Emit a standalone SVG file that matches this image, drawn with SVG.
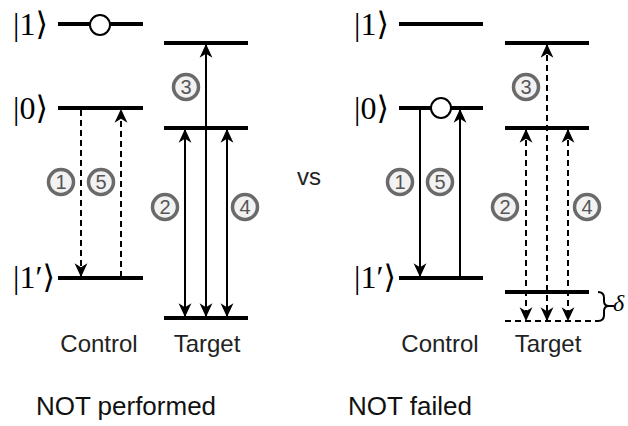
<svg xmlns="http://www.w3.org/2000/svg" width="628" height="426" viewBox="0 0 628 426">
<style>
.lvl{stroke:#000;stroke-width:4;fill:none}
.ar{stroke:#000;stroke-width:2;fill:none}
.da{stroke:#000;stroke-width:2;fill:none;stroke-dasharray:6,4}
.ket{font-family:"Liberation Serif","DejaVu Serif",serif;font-size:32px;fill:#000}
.lab{font-family:"Liberation Sans",Arial,sans-serif;font-size:24px;fill:#222;text-anchor:middle}
.big{font-family:"Liberation Sans",Arial,sans-serif;font-size:26px;fill:#111;text-anchor:middle}
.num circle{fill:#f2f2f2;stroke:#6a6a6a;stroke-width:3.5}
.num text{font-family:"Liberation Sans",Arial,sans-serif;font-size:20px;fill:#555;text-anchor:middle}
.dot{fill:#fff;stroke:#000;stroke-width:2}
</style>
<defs>
<marker id="ah" markerUnits="userSpaceOnUse" markerWidth="14" markerHeight="14" viewBox="0 0 12 12" refX="11" refY="6" orient="auto-start-reverse">
<path d="M0,0.5 L12,6 L0,11.5 L3.5,6 z" fill="#000"/>
</marker>
</defs>

<!-- Left panel -->
<g id="left-control">
<text class="ket" x="13" y="35">|1⟩</text>
<text class="ket" x="13" y="119">|0⟩</text>
<text class="ket" x="13" y="288">|1′⟩</text>
<line class="lvl" x1="58" y1="24" x2="143" y2="24"/>
<line class="lvl" x1="58" y1="108" x2="143" y2="108"/>
<line class="lvl" x1="58" y1="278" x2="143" y2="278"/>
<circle class="dot" cx="100" cy="25" r="10"/>
<text class="lab" x="99" y="352">Control</text>
</g>
<g id="left-target">
<line class="lvl" x1="164" y1="43" x2="248" y2="43"/>
<line class="lvl" x1="164" y1="128" x2="248" y2="128"/>
<line class="lvl" x1="164" y1="318" x2="248" y2="318"/>
<text class="lab" x="207" y="352">Target</text>
</g>
<g id="left-connectors">
<line class="da" x1="81" y1="110" x2="81" y2="276" marker-end="url(#ah)"/>
<line class="da" x1="121" y1="277" x2="121" y2="110" marker-end="url(#ah)"/>
<line class="ar" x1="185" y1="130" x2="185" y2="316" marker-start="url(#ah)" marker-end="url(#ah)"/>
<line class="ar" x1="206" y1="45" x2="206" y2="316" marker-start="url(#ah)" marker-end="url(#ah)"/>
<line class="ar" x1="227" y1="130" x2="227" y2="316" marker-start="url(#ah)" marker-end="url(#ah)"/>
</g>
<g id="left-numbers" class="num">
<circle cx="61" cy="182" r="12.5"/><text x="61" y="189">1</text>
<circle cx="101" cy="182" r="12.5"/><text x="101" y="189">5</text>
<circle cx="165" cy="207" r="12.5"/><text x="165" y="214">2</text>
<circle cx="245" cy="207" r="12.5"/><text x="245" y="214">4</text>
<circle cx="186" cy="87" r="12.5"/><text x="186" y="94">3</text>
</g>
<text id="left-caption" class="big" x="126" y="415">NOT performed</text>

<text id="vs" class="lab" x="309" y="185">vs</text>

<!-- Right panel -->
<g id="right-control">
<text class="ket" x="354" y="35">|1⟩</text>
<text class="ket" x="354" y="119">|0⟩</text>
<text class="ket" x="354" y="288">|1′⟩</text>
<line class="lvl" x1="399" y1="24" x2="483" y2="24"/>
<line class="lvl" x1="399" y1="108" x2="483" y2="108"/>
<line class="lvl" x1="399" y1="278" x2="483" y2="278"/>
<circle class="dot" cx="441" cy="108" r="10"/>
<text class="lab" x="440" y="352">Control</text>
</g>
<g id="right-target">
<line class="lvl" x1="505" y1="43" x2="589" y2="43"/>
<line class="lvl" x1="505" y1="128" x2="589" y2="128"/>
<line class="lvl" x1="505" y1="292" x2="589" y2="292"/>
<line class="da" x1="505" y1="321" x2="598" y2="321"/>
<path class="ar" d="M598,292 q6,0 6,6 v3 q0,5 5,5 q-5,0 -5,5 v4 q0,6 -6,6 M609,306 h5"/>
<text x="613" y="311" style="font-family:'Liberation Serif','DejaVu Serif',serif;font-style:italic;font-size:24px">δ</text>
<text class="lab" x="548" y="352">Target</text>
</g>
<g id="right-connectors">
<line class="ar" x1="420" y1="110" x2="420" y2="276" marker-end="url(#ah)"/>
<line class="ar" x1="460" y1="277" x2="460" y2="110" marker-end="url(#ah)"/>
<line class="da" x1="526" y1="130" x2="526" y2="320" marker-start="url(#ah)" marker-end="url(#ah)"/>
<line class="da" x1="547" y1="45" x2="547" y2="320" marker-start="url(#ah)" marker-end="url(#ah)"/>
<line class="da" x1="568" y1="130" x2="568" y2="320" marker-start="url(#ah)" marker-end="url(#ah)"/>
</g>
<g id="right-numbers" class="num">
<circle cx="400" cy="182" r="12.5"/><text x="400" y="189">1</text>
<circle cx="440" cy="182" r="12.5"/><text x="440" y="189">5</text>
<circle cx="505" cy="207" r="12.5"/><text x="505" y="214">2</text>
<circle cx="587" cy="207" r="12.5"/><text x="587" y="214">4</text>
<circle cx="526" cy="87" r="12.5"/><text x="526" y="94">3</text>
</g>
<text id="right-caption" class="big" x="410" y="415">NOT failed</text>
</svg>
